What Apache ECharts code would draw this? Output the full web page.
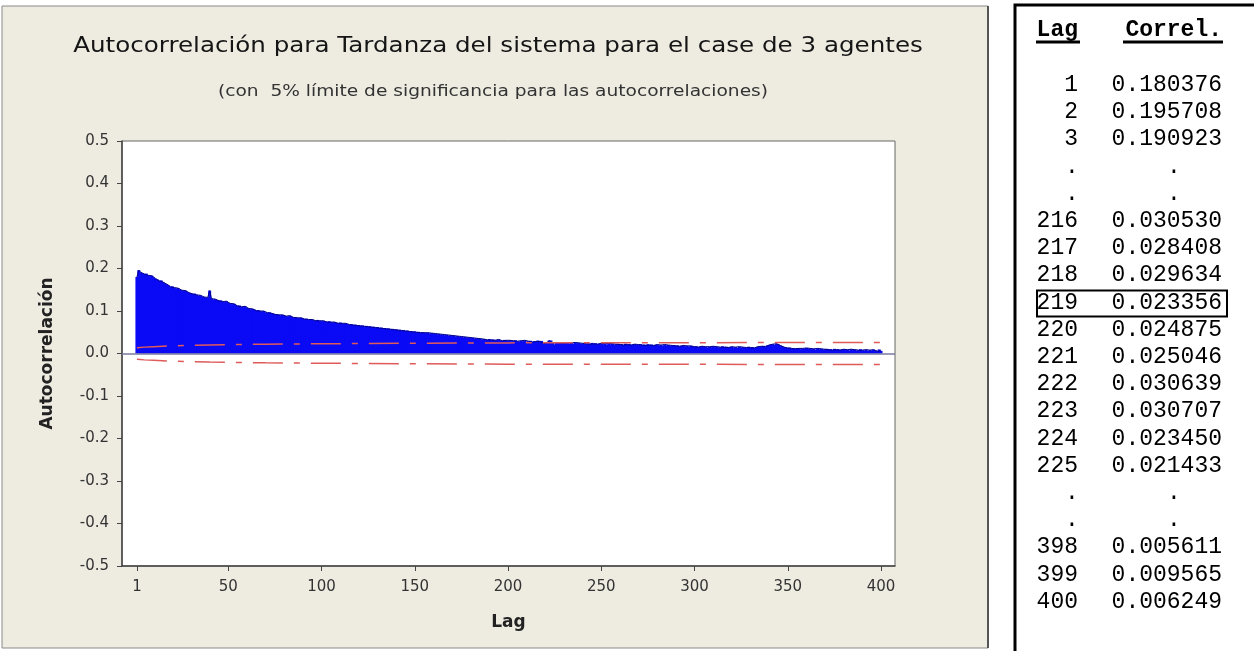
<!DOCTYPE html>
<html>
<head>
<meta charset="utf-8">
<script src="https://cdn.jsdelivr.net/npm/echarts@6/dist/echarts.min.js"></script>
<style>
html,body{margin:0;padding:0;background:#fff;}
#chart{width:1254px;height:651px;}
</style>
</head>
<body>
<div id="chart"></div>
<script>
// ---- Data ----
const titleText = 'Autocorrelación para Tardanza del sistema para el case de 3 agentes';
const subtitleText = '(con  5% límite de significancia para las autocorrelaciones)';
const yAxisTitle = 'Autocorrelación';
const xAxisTitle = 'Lag';
const xTickLabels = [1, 50, 100, 150, 200, 250, 300, 350, 400];

// Autocorrelation per lag 1..400 (table values used where given)
const acf = [
0.180,0.196,0.191,0.189,0.187,0.188,0.184,0.182,0.183,0.179,
0.176,0.174,0.171,0.172,0.168,0.165,0.163,0.160,0.157,0.158,
0.155,0.153,0.154,0.151,0.149,0.147,0.148,0.145,0.143,0.142,
0.140,0.141,0.138,0.136,0.137,0.134,0.133,0.131,0.132,0.148,
0.129,0.127,0.128,0.126,0.124,0.125,0.122,0.121,0.123,0.119,
0.118,0.116,0.117,0.114,0.112,0.113,0.110,0.109,0.111,0.107,
0.106,0.104,0.105,0.103,0.101,0.102,0.100,0.099,0.100,0.097,
0.096,0.097,0.095,0.094,0.092,0.093,0.091,0.090,0.091,0.089,
0.088,0.087,0.089,0.086,0.085,0.086,0.084,0.083,0.084,0.082,
0.081,0.082,0.080,0.079,0.080,0.078,0.077,0.079,0.077,0.076,
0.077,0.075,0.074,0.076,0.074,0.073,0.074,0.072,0.071,0.073,
0.071,0.070,0.071,0.069,0.068,0.069,0.067,0.068,0.066,0.067,
0.065,0.066,0.064,0.065,0.063,0.064,0.062,0.063,0.061,0.062,
0.060,0.061,0.059,0.060,0.058,0.059,0.057,0.058,0.056,0.057,
0.055,0.056,0.054,0.055,0.053,0.054,0.052,0.053,0.051,0.052,
0.050,0.051,0.049,0.050,0.049,0.048,0.049,0.047,0.048,0.046,
0.047,0.045,0.046,0.044,0.045,0.043,0.044,0.042,0.043,0.041,
0.042,0.040,0.041,0.039,0.040,0.038,0.039,0.037,0.038,0.036,
0.037,0.035,0.036,0.034,0.035,0.033,0.034,0.033,0.032,0.034,
0.032,0.033,0.031,0.032,0.033,0.031,0.030,0.032,0.031,0.030,
0.031,0.029,0.030,0.031,0.029,0.028,0.030,0.029,0.031,0.028,
0.029,0.030,0.027,0.029,0.028,0.030530,0.028408,0.029634,0.023356,0.024875,
0.025046,0.030639,0.030707,0.023450,0.021433,0.026,0.027,0.025,0.026,0.024,
0.025,0.026,0.024,0.025,0.023,0.026,0.024,0.025,0.023,0.024,
0.025,0.023,0.024,0.022,0.025,0.023,0.024,0.022,0.023,0.024,
0.022,0.023,0.021,0.024,0.022,0.023,0.021,0.022,0.023,0.021,
0.022,0.020,0.023,0.021,0.022,0.020,0.021,0.022,0.020,0.021,
0.022,0.020,0.021,0.019,0.022,0.020,0.021,0.019,0.020,0.021,
0.019,0.020,0.018,0.021,0.019,0.020,0.018,0.019,0.020,0.018,
0.019,0.017,0.018,0.019,0.017,0.018,0.016,0.018,0.017,0.016,
0.017,0.015,0.016,0.017,0.015,0.016,0.014,0.016,0.015,0.017,
0.015,0.016,0.014,0.015,0.017,0.015,0.016,0.014,0.015,0.016,
0.014,0.015,0.013,0.016,0.014,0.015,0.013,0.014,0.016,0.014,
0.015,0.013,0.014,0.016,0.015,0.017,0.018,0.016,0.019,0.020,
0.021,0.022,0.020,0.023,0.021,0.019,0.017,0.015,0.014,0.013,
0.014,0.012,0.013,0.011,0.013,0.012,0.010,0.012,0.011,0.013,
0.011,0.012,0.010,0.011,0.009,0.012,0.010,0.011,0.009,0.010,
0.011,0.009,0.010,0.008,0.011,0.009,0.010,0.008,0.009,0.010,
0.008,0.009,0.007,0.010,0.008,0.009,0.007,0.008,0.010,0.008,
0.007,0.009,0.006,0.008,0.007,0.009,0.006,0.005611,0.009565,0.006249
];

// 5% significance limits, read at a few lags
const limitLags = [1, 5, 10, 20, 40, 70, 100, 150, 200, 300, 400];
const limitVals = [0.0135, 0.015, 0.016, 0.018, 0.020, 0.022, 0.023, 0.024, 0.025, 0.0255, 0.026];

// Table on the right
const tableLags = ['1','2','3','.','.','216','217','218','219','220','221','222','223','224','225','.','.','398','399','400'];
const tableCorr = ['0.180376','0.195708','0.190923','.','.','0.030530','0.028408','0.029634','0.023356','0.024875','0.025046','0.030639','0.030707','0.023450','0.021433','.','.','0.005611','0.009565','0.006249'];
const highlightLag = '219';

// ---- Build ----
const barData = acf.map((v, i) => [i + 1, v]);
const upper = limitLags.map((l, i) => [l, limitVals[i]]);
const lower = limitLags.map((l, i) => [l, -limitVals[i]]);

const chart = echarts.init(document.getElementById('chart'), null, {renderer: 'canvas'});

const mono = '"Liberation Mono", "Courier New", monospace';
const sans = '"DejaVu Sans", Verdana, sans-serif';
const graphics = [];
// panel background
graphics.push({type: 'rect', z: -10, silent: true,
  shape: {x: 2, y: 6, width: 986, height: 642},
  style: {fill: '#EEEBE1', stroke: '#8a8a8a', lineWidth: 1}});
graphics.push({type: 'line', z: -9, silent: true, shape: {x1: 988, y1: 6, x2: 988, y2: 648}, style: {stroke: '#555', lineWidth: 2}});
// title + subtitle (the reference lettering is horizontally stretched)
graphics.push({type: 'text', silent: true, x: 498, y: 47, scaleX: 1.17,
  style: {text: titleText, x: 0, y: 0, font: '21px ' + sans, fill: '#151515', align: 'center', verticalAlign: 'middle'}});
graphics.push({type: 'text', silent: true, x: 493, y: 92, scaleX: 1.24,
  style: {text: subtitleText, x: 0, y: 0, font: '15px ' + sans, fill: '#333', align: 'center', verticalAlign: 'middle'}});
// table box
graphics.push({type: 'rect', silent: true, shape: {x: 1015, y: 5, width: 260, height: 700},
  style: {fill: '#fff', stroke: '#000', lineWidth: 3}});
// header
graphics.push({type: 'text', silent: true, style: {text: 'Lag', x: 1078, y: 30, font: 'bold 23px ' + mono, fill: '#000', align: 'right', verticalAlign: 'middle'}});
graphics.push({type: 'text', silent: true, style: {text: 'Correl.', x: 1222, y: 30, font: 'bold 23px ' + mono, fill: '#000', align: 'right', verticalAlign: 'middle'}});
graphics.push({type: 'line', silent: true, shape: {x1: 1036, y1: 42, x2: 1080, y2: 42}, style: {stroke: '#000', lineWidth: 3}});
graphics.push({type: 'line', silent: true, shape: {x1: 1123, y1: 42, x2: 1223, y2: 42}, style: {stroke: '#000', lineWidth: 3}});
tableLags.forEach((lag, i) => {
  const y = 85 + i * 27.2;
  if (lag === '.') {
    graphics.push({type: 'text', silent: true, style: {text: '.', x: 1072, y: y, font: '23px ' + mono, fill: '#000', align: 'center', verticalAlign: 'middle'}});
    graphics.push({type: 'text', silent: true, style: {text: '.', x: 1174, y: y, font: '23px ' + mono, fill: '#000', align: 'center', verticalAlign: 'middle'}});
  } else {
    graphics.push({type: 'text', silent: true, style: {text: lag, x: 1078, y: y, font: '23px ' + mono, fill: '#000', align: 'right', verticalAlign: 'middle'}});
    graphics.push({type: 'text', silent: true, style: {text: tableCorr[i], x: 1222, y: y, font: '23px ' + mono, fill: '#000', align: 'right', verticalAlign: 'middle'}});
    if (lag === highlightLag) {
      graphics.push({type: 'rect', silent: true, shape: {x: 1037, y: y - 12, width: 190, height: 26}, style: {fill: 'none', stroke: '#000', lineWidth: 2}});
    }
  }
});

const option = {
  animation: false,
  backgroundColor: '#ffffff',
  graphic: graphics,
  grid: {left: 122, top: 141, width: 773, height: 425, show: true, backgroundColor: '#ffffff', borderColor: '#666', borderWidth: 1},
  xAxis: {
    type: 'value', min: -7, max: 407.5,
    name: xAxisTitle, nameLocation: 'middle', nameGap: 48,
    nameTextStyle: {fontFamily: 'DejaVu Sans', fontWeight: 'bold', fontSize: 17, color: '#222'},
    axisLine: {show: true, onZero: false, lineStyle: {color: '#444', width: 1.5}},
    axisTick: {show: true, length: 5, customValues: xTickLabels, lineStyle: {color: '#444'}},
    axisLabel: {customValues: xTickLabels, margin: 14, fontFamily: 'DejaVu Sans', fontSize: 15, color: '#333'},
    splitLine: {show: false}
  },
  yAxis: {
    type: 'value', min: -0.5, max: 0.5, interval: 0.1,
    name: yAxisTitle, nameLocation: 'middle', nameGap: 66, nameRotate: 90,
    nameTextStyle: {fontFamily: 'DejaVu Sans', fontWeight: 'bold', fontSize: 17, color: '#222'},
    axisLine: {show: true, onZero: false, lineStyle: {color: '#444', width: 1.5}},
    axisTick: {show: true, length: 5, lineStyle: {color: '#444'}},
    axisLabel: {margin: 13, fontFamily: 'DejaVu Sans', fontSize: 15, color: '#333',
      formatter: v => (Math.abs(v) < 1e-9 ? 0 : v).toFixed(1)},
    splitLine: {show: false}
  },
  series: [
    {type: 'bar', data: barData, barWidth: 3, itemStyle: {color: '#0a0af5'}, silent: true,
     markLine: {silent: true, symbol: 'none', label: {show: false},
       lineStyle: {color: '#7878a0', width: 1.5, type: 'solid'}, data: [{yAxis: 0}]}},
    {type: 'line', data: barData, showSymbol: false, symbol: 'none', silent: true,
     lineStyle: {color: '#00008a', width: 1}},
    {type: 'line', data: upper, showSymbol: false, symbol: 'none', silent: true, z: 5,
     lineStyle: {color: '#e05a5a', width: 1.5, type: [30, 11, 6, 11]}},
    {type: 'line', data: lower, showSymbol: false, symbol: 'none', silent: true, z: 5,
     lineStyle: {color: '#e05a5a', width: 1.5, type: [30, 11, 6, 11]}}
  ]
};
chart.setOption(option);
</script>
</body>
</html>
